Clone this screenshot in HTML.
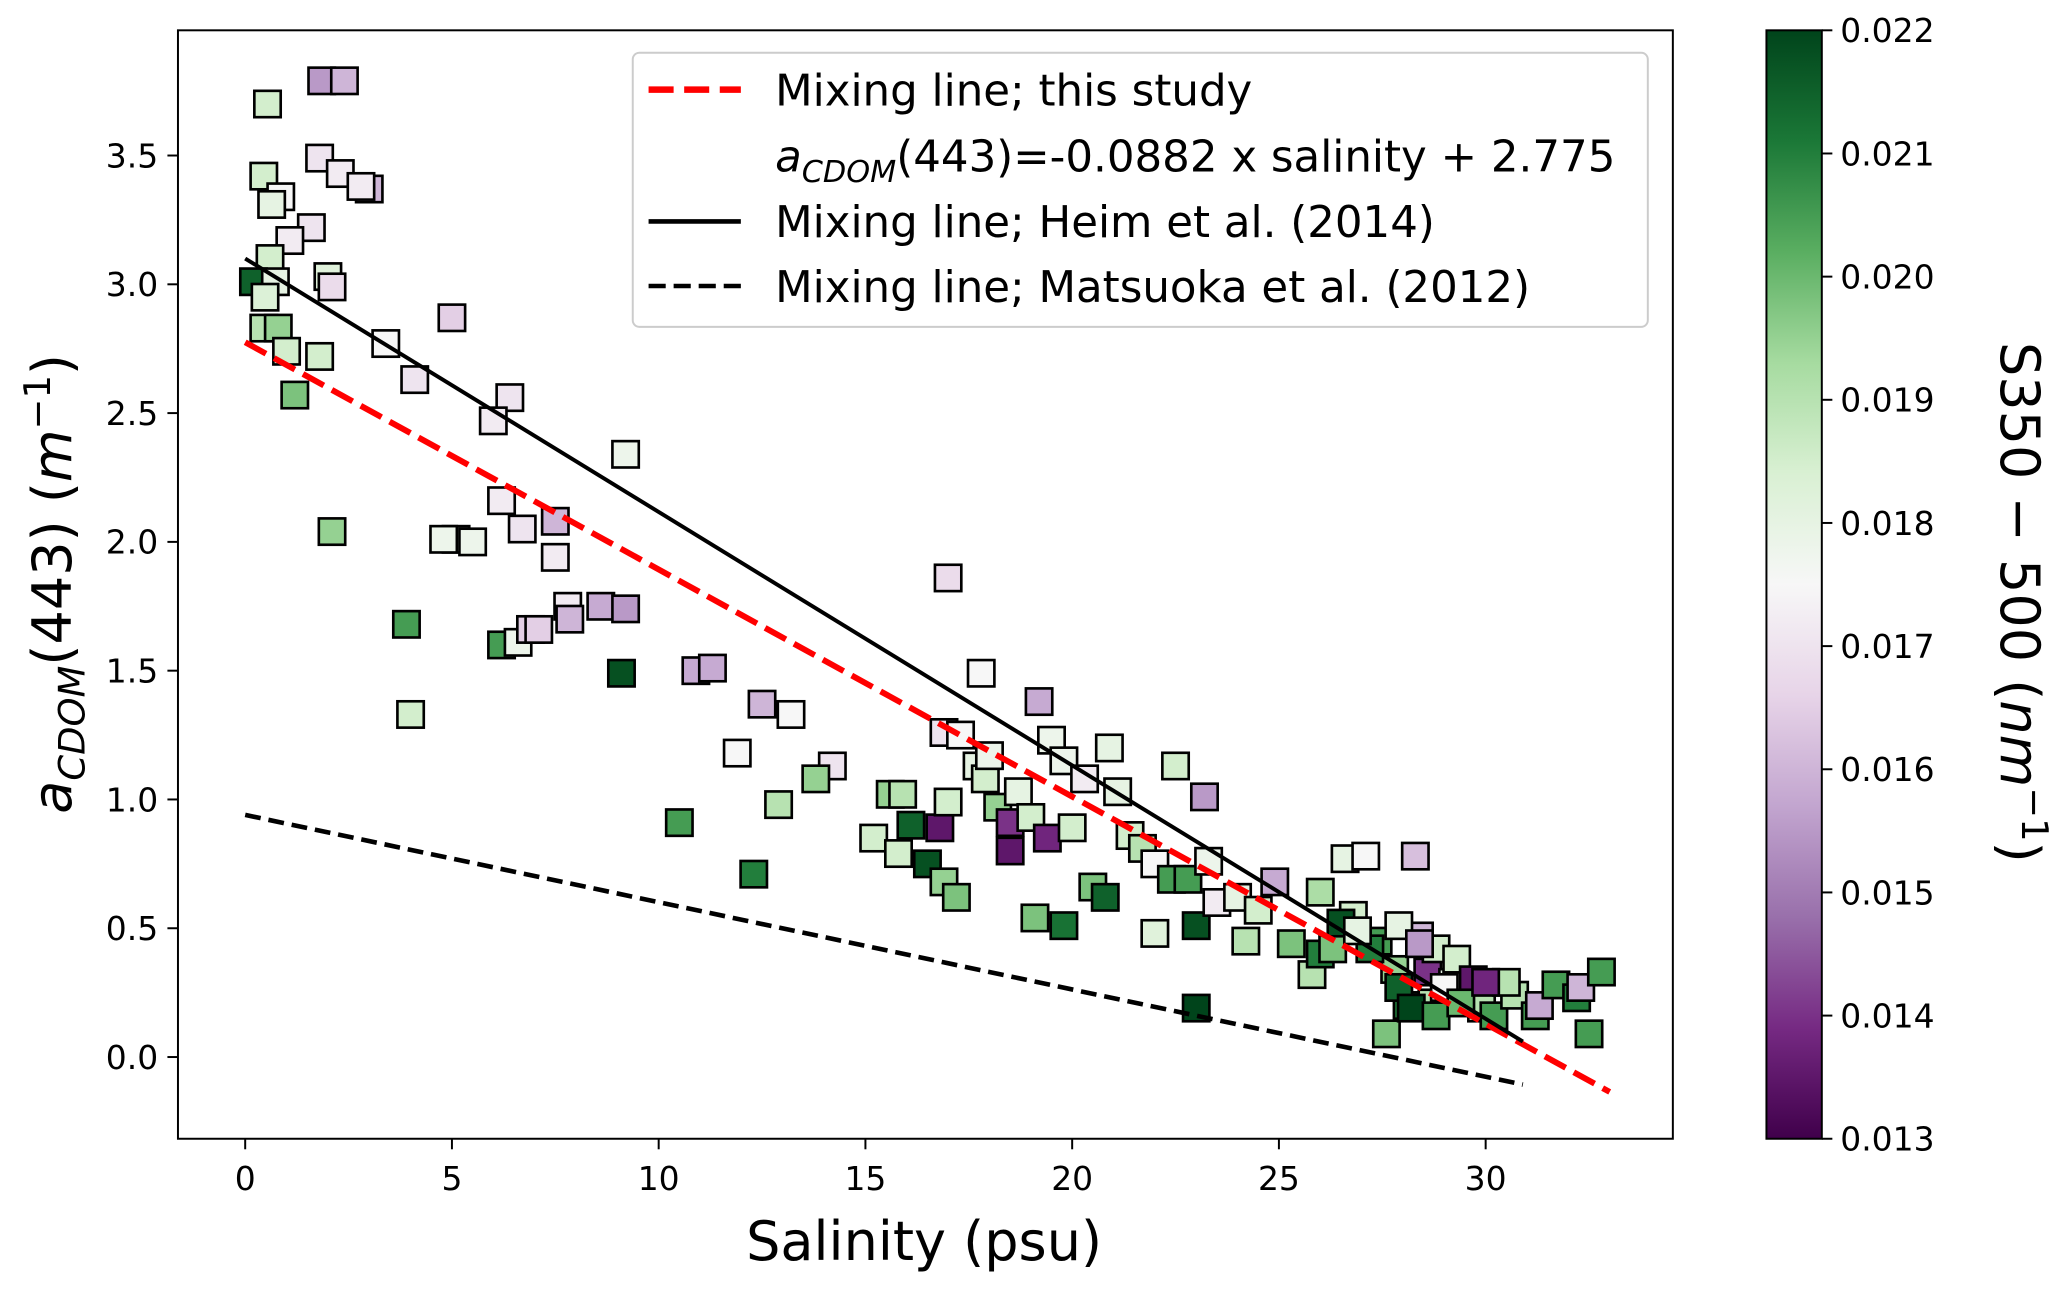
<!DOCTYPE html>
<html><head><meta charset="utf-8">
<style>
html,body{margin:0;padding:0;background:#fff;}
svg{display:block;font-family:"DejaVu Sans","Liberation Sans",sans-serif;}
</style></head>
<body>
<svg id="chart" width="2067" height="1289" viewBox="0 0 1568 978" preserveAspectRatio="none" xmlns="http://www.w3.org/2000/svg">
<defs>
<linearGradient id="prgn" x1="0" y1="1" x2="0" y2="0">
<stop offset="0" stop-color="#40004b"/><stop offset="0.1" stop-color="#762a83"/><stop offset="0.2" stop-color="#9970ab"/><stop offset="0.3" stop-color="#c2a5cf"/><stop offset="0.4" stop-color="#e7d4e8"/><stop offset="0.5" stop-color="#f7f7f7"/><stop offset="0.6" stop-color="#d9f0d3"/><stop offset="0.7" stop-color="#a6dba0"/><stop offset="0.8" stop-color="#5aae61"/><stop offset="0.9" stop-color="#1b7837"/><stop offset="1" stop-color="#00441b"/>
</linearGradient>
<clipPath id="plotclip"><rect x="135" y="23" width="1134" height="841"/></clipPath>
</defs>
<g id="marks" clip-path="url(#plotclip)"></g>
<rect x="135" y="23" width="1134" height="841" fill="none" stroke="#000" stroke-width="1.5"/>
<g id="xticks"></g>
<g id="yticks"></g>
<text x="701" y="956" font-size="41" text-anchor="middle">Salinity (psu)</text>
<text transform="translate(54,443) rotate(-90)" font-size="41" text-anchor="middle"><tspan font-style="italic">a</tspan><tspan font-size="28" font-style="italic" dy="10">CDOM</tspan><tspan dy="-10">(443) (</tspan><tspan font-style="italic">m</tspan><tspan font-size="28" dy="-16">−1</tspan><tspan dy="16">)</tspan></text>
<g>
<rect x="480" y="40" width="770" height="208" rx="5" fill="#fff" fill-opacity="0.8" stroke="#ccc" stroke-width="1.5"/>
<line x1="492" y1="68" x2="562" y2="68" stroke="#f00" stroke-width="5" stroke-dasharray="19,8"/>
<text x="588" y="80" font-size="33">Mixing line; this study</text>
<text x="588" y="130" font-size="33"><tspan font-style="italic">a</tspan><tspan font-size="23" font-style="italic" dy="8">CDOM</tspan><tspan dy="-8">(443)=-0.0882 x salinity + 2.775</tspan></text>
<line x1="492" y1="168" x2="562" y2="168" stroke="#000" stroke-width="3.5"/>
<text x="588" y="180" font-size="33">Mixing line; Heim et al. (2014)</text>
<line x1="492" y1="217" x2="562" y2="217" stroke="#000" stroke-width="3.5" stroke-dasharray="13,6"/>
<text x="588" y="229" font-size="33">Mixing line; Matsuoka et al. (2012)</text>
</g>
<g>
<rect x="1340" y="23" width="42" height="841" fill="url(#prgn)" stroke="#000" stroke-width="1.5"/>
<g id="cticks"></g>
<text transform="translate(1518,457) rotate(90)" font-size="41" text-anchor="middle">S350 − 500 (<tspan font-style="italic">nm</tspan><tspan font-size="28" dy="-16">−1</tspan><tspan dy="16">)</tspan></text>
</g>
</svg>
<script>
const xTicks=[0,5,10,15,20,25,30];
const yTicks=[0.0,0.5,1.0,1.5,2.0,2.5,3.0,3.5];
const cTicks=[0.013,0.014,0.015,0.016,0.017,0.018,0.019,0.020,0.021,0.022];
const salinity=[1.85,2.4,0.54,1.8,2.3,0.45,3.0,2.8,0.86,0.64,1.6,1.08,0.6,2.0,2.1,0.2,0.73,0.48,0.45,0.8,1.0,1.8,1.2,3.4,5.0,4.1,6.4,6.0,9.2,2.1,6.2,5.1,4.8,5.5,6.7,7.5,7.5,3.9,6.2,6.6,6.9,7.1,7.8,7.85,8.6,9.2,9.1,4.0,10.9,11.3,12.5,13.2,11.9,17.0,17.8,19.2,14.2,13.8,12.9,10.5,12.3,15.2,15.6,15.9,15.8,16.1,16.8,16.5,16.9,17.2,17.0,16.9,17.3,17.7,17.9,18.0,18.2,18.5,18.5,18.7,19.0,19.4,19.1,19.8,19.5,19.8,20.0,20.3,20.5,20.9,20.8,21.1,21.4,21.7,22.0,22.0,22.5,22.4,22.8,23.0,23.2,23.0,23.3,23.5,24.0,24.2,24.5,24.9,25.3,25.8,26.0,26.0,26.3,26.6,27.1,26.8,27.4,27.6,27.8,28.1,28.3,28.4,28.6,28.7,28.8,29.2,29.3,29.7,29.9,30.2,30.7,31.2,31.3,31.7,32.2,32.3,32.5,32.8,26.5,27.2,27.9,28.2,28.8,29.0,29.4,30.5,30.0,26.9,27.9,28.4];
const acdom=[3.79,3.79,3.70,3.49,3.43,3.42,3.37,3.38,3.34,3.31,3.22,3.17,3.10,3.03,2.99,3.01,3.01,2.95,2.83,2.83,2.74,2.72,2.57,2.77,2.87,2.63,2.56,2.47,2.34,2.04,2.16,2.01,2.01,2.00,2.05,2.08,1.94,1.68,1.60,1.61,1.66,1.66,1.75,1.70,1.75,1.74,1.49,1.33,1.50,1.51,1.37,1.33,1.18,1.86,1.49,1.38,1.13,1.08,0.98,0.91,0.71,0.85,1.02,1.02,0.79,0.90,0.89,0.75,0.68,0.62,0.99,1.26,1.25,1.13,1.08,1.17,0.97,0.91,0.80,1.03,0.93,0.85,0.54,0.51,1.23,1.15,0.89,1.08,0.66,1.20,0.62,1.03,0.86,0.81,0.48,0.75,1.13,0.69,0.69,0.51,1.01,0.19,0.76,0.60,0.62,0.45,0.57,0.68,0.44,0.32,0.64,0.40,0.42,0.77,0.78,0.55,0.45,0.09,0.34,0.20,0.78,0.47,0.33,0.21,0.42,0.29,0.38,0.30,0.19,0.16,0.24,0.16,0.20,0.28,0.23,0.27,0.09,0.33,0.52,0.42,0.27,0.19,0.16,0.27,0.21,0.29,0.29,0.49,0.51,0.44];
const slope=[0.0155,0.016,0.0185,0.017,0.0172,0.0185,0.016,0.0172,0.0175,0.018,0.017,0.0172,0.0185,0.0182,0.0168,0.0215,0.018,0.0183,0.019,0.0195,0.0185,0.0185,0.0198,0.0175,0.0165,0.017,0.017,0.0172,0.0178,0.0195,0.0172,0.0178,0.0178,0.0178,0.017,0.016,0.0172,0.0205,0.0205,0.0178,0.0165,0.0165,0.0172,0.016,0.0158,0.0155,0.0218,0.0185,0.0158,0.0158,0.016,0.0175,0.0175,0.0168,0.0175,0.0158,0.017,0.0195,0.019,0.0205,0.021,0.0185,0.0195,0.019,0.0185,0.0215,0.0135,0.0218,0.0195,0.0198,0.0185,0.017,0.0175,0.018,0.0185,0.0178,0.0195,0.014,0.0135,0.018,0.0185,0.0138,0.0198,0.0212,0.0178,0.0178,0.0185,0.0172,0.0198,0.018,0.0215,0.018,0.0185,0.019,0.0182,0.0175,0.0185,0.0205,0.0205,0.0218,0.0155,0.022,0.0178,0.0172,0.018,0.019,0.0185,0.0158,0.0198,0.019,0.0192,0.021,0.0198,0.018,0.0175,0.0185,0.0205,0.0198,0.0195,0.021,0.0162,0.016,0.014,0.019,0.0185,0.018,0.0185,0.0135,0.019,0.0205,0.019,0.0205,0.0158,0.0205,0.021,0.016,0.0205,0.0205,0.0218,0.021,0.0215,0.022,0.0205,0.0175,0.02,0.019,0.0138,0.018,0.018,0.0155];
const lineSal=[0,33];
const thisStudy=[2.775,-0.0882];
const heimEnds=[[0,3.10],[30.9,0.06]];
const matsuokaEnds=[[0,0.94],[30.9,-0.107]];

const NS="http://www.w3.org/2000/svg";
const X0=186,XS=(1127-186)/30,Y0=802,YS=(802-118)/3.5;
const sx=v=>X0+v*XS, sy=v=>Y0-v*YS;
const cy=v=>864-(v-0.013)/(0.009)*841;
const stops=[[64,0,75],[118,42,131],[153,112,171],[194,165,207],[231,212,232],[247,247,247],[217,240,211],[166,219,160],[90,174,97],[27,120,55],[0,68,27]];
function cmap(v){let t=Math.max(0,Math.min(1,(v-0.013)/0.009))*10;let i=Math.min(9,Math.floor(t)),f=t-i;const a=stops[i],b=stops[i+1];return 'rgb('+a.map((c,k)=>Math.round(c+(b[k]-c)*f)).join(',')+')';}
function mk(tag,attrs,parent){const e=document.createElementNS(NS,tag);for(const k in attrs)e.setAttribute(k,attrs[k]);parent.appendChild(e);return e;}
const marks=document.getElementById('marks');
for(let i=0;i<salinity.length;i++){
  const r=mk('rect',{x:sx(salinity[i])-10,y:sy(acdom[i])-10,width:20,height:20,fill:cmap(slope[i]),stroke:'#000','stroke-width':2},marks);
  
  
}
const red=mk('line',{x1:sx(lineSal[0]),y1:sy(thisStudy[0]+thisStudy[1]*lineSal[0]),x2:sx(lineSal[1]),y2:sy(thisStudy[0]+thisStudy[1]*lineSal[1]),stroke:'#f00','stroke-width':4.5,'stroke-dasharray':'18,7'},marks);


const heim=mk('line',{x1:sx(heimEnds[0][0]),y1:sy(heimEnds[0][1]),x2:sx(heimEnds[1][0]),y2:sy(heimEnds[1][1]),stroke:'#000','stroke-width':3},marks);


const mat=mk('line',{x1:sx(matsuokaEnds[0][0]),y1:sy(matsuokaEnds[0][1]),x2:sx(matsuokaEnds[1][0]),y2:sy(matsuokaEnds[1][1]),stroke:'#000','stroke-width':3.5,'stroke-dasharray':'12,6'},marks);


const xg=document.getElementById('xticks');
xTicks.forEach(v=>{
  const l=mk('line',{x1:sx(v),y1:864,x2:sx(v),y2:872,stroke:'#000','stroke-width':1.5},xg);
  
  
  const t=mk('text',{x:sx(v),y:903,'font-size':25,'text-anchor':'middle'},xg);t.textContent=v;
  
  
});
const yg=document.getElementById('yticks');
yTicks.forEach(v=>{
  const l=mk('line',{x1:127,y1:sy(v),x2:135,y2:sy(v),stroke:'#000','stroke-width':1.5},yg);
  
  
  const t=mk('text',{x:120,y:sy(v)+9,'font-size':25,'text-anchor':'end'},yg);t.textContent=v.toFixed(1);
  
  
});
const cg=document.getElementById('cticks');
cTicks.forEach(v=>{
  const l=mk('line',{x1:1382,y1:cy(v),x2:1390,y2:cy(v),stroke:'#000','stroke-width':1.5},cg);
  
  
  const t=mk('text',{x:1396,y:cy(v)+9,'font-size':25},cg);t.textContent=v.toFixed(3);
  
  
});
</script>
</body></html>
